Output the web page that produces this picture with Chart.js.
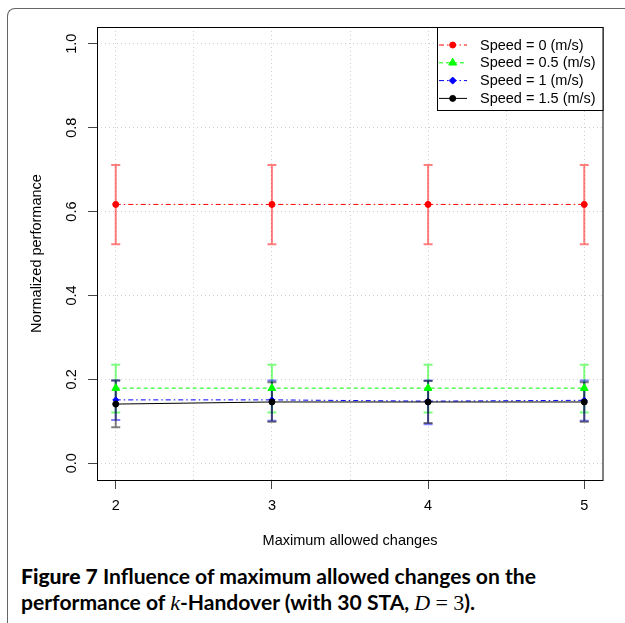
<!DOCTYPE html>
<html><head><meta charset="utf-8">
<script src="https://cdn.jsdelivr.net/npm/chart.js@4.4.0/dist/chart.umd.min.js"></script>
<style>
html,body{margin:0;padding:0;width:625px;height:623px;overflow:hidden;background:#fff;}
#frame{position:absolute;left:7px;top:8px;width:700px;height:700px;border-left:1px solid #666;border-top:1px solid #666;border-top-left-radius:8px;box-sizing:border-box;}
#wrap{position:absolute;left:0;top:0;width:625px;height:560px;}
#cap{position:absolute;left:21px;top:563px;font-family:Lato,"Open Sans",sans-serif;font-size:21.1px;line-height:26px;color:#000;font-weight:700;white-space:nowrap;}
#cap .f{font-weight:900;}
#cap .m{font-family:"Liberation Serif",serif;font-weight:400;font-size:22px;}
</style></head>
<body>
<div id="frame"></div>
<div id="wrap"><canvas id="c"></canvas></div>
<div id="cap"><span class="f">Figure 7</span> Influence of maximum allowed changes on the<br>performance of <i class="m">k</i>-Handover (with 30 STA, <i class="m">D</i> <span class="m">= 3</span>).</div>
<script>
// ---- data ----
const xValues = [2, 3, 4, 5];
const xGridValues = [2, 2.5, 3, 3.5, 4, 4.5, 5];
const xTickLabels = ['2', '3', '4', '5'];
const yTickValues = [0, 0.2, 0.4, 0.6, 0.8, 1.0];
const yTickLabels = ['0.0', '0.2', '0.4', '0.6', '0.8', '1.0'];
const seriesLabels = ['Speed = 0 (m/s)', 'Speed = 0.5 (m/s)', 'Speed = 1 (m/s)', 'Speed = 1.5 (m/s)'];

const speed0 = [0.617, 0.617, 0.617, 0.617];
const speed0Lo = [0.522, 0.522, 0.522, 0.522];
const speed0Hi = [0.711, 0.711, 0.711, 0.711];

const speed05 = [0.179, 0.179, 0.179, 0.179];
const speed05Lo = [0.121, 0.121, 0.121, 0.121];
const speed05Hi = [0.235, 0.235, 0.235, 0.235];

const speed1 = [0.151, 0.151, 0.148, 0.150];
const speed1Lo = [0.103, 0.101, 0.093, 0.101];
const speed1Hi = [0.197, 0.197, 0.197, 0.197];

const speed15 = [0.141, 0.146, 0.146, 0.146];
const speed15Lo = [0.086, 0.099, 0.096, 0.099];
const speed15Hi = [0.197, 0.193, 0.196, 0.193];

// ---- styles ----
const FONT = {family: '"Liberation Sans", Arial, sans-serif', size: 14.5};
const styles = [
  {color: '#ff0000', err: 'rgba(255,0,0,0.5)', dash: [5, 3, 1.5, 3], point: 'circle', r: 3},
  {color: '#00ff00', err: 'rgba(0,255,0,0.5)', dash: [4, 3], point: 'triangle', r: 4.5},
  {color: '#0000ff', err: 'rgba(0,0,255,0.5)', dash: [5, 3, 1.5, 3], point: 'rectRot', r: 3},
  {color: '#000000', err: 'rgba(0,0,0,0.5)', dash: [], point: 'circle', r: 3}
];
const seriesVals = [speed0, speed05, speed1, speed15];
const seriesLo = [speed0Lo, speed05Lo, speed1Lo, speed15Lo];
const seriesHi = [speed0Hi, speed05Hi, speed1Hi, speed15Hi];

const datasets = seriesVals.map((vals, k) => ({
  label: seriesLabels[k],
  data: xValues.map((x, i) => ({x: x, y: vals[i]})),
  lo: seriesLo[k], hi: seriesHi[k],
  borderColor: styles[k].color,
  backgroundColor: styles[k].color,
  borderWidth: 1,
  borderDash: styles[k].dash,
  pointStyle: styles[k].point,
  pointRadius: styles[k].r,
  pointBorderWidth: 1,
  pointBackgroundColor: styles[k].color,
  pointBorderColor: styles[k].color,
  errColor: styles[k].err,
  tension: 0,
  fill: false,
  order: 4 - k
}));

function drawMarker(ctx, style, x, y, r, color) {
  ctx.save();
  ctx.fillStyle = color; ctx.strokeStyle = color; ctx.lineWidth = 1; ctx.setLineDash([]);
  ctx.beginPath();
  if (style === 'circle') {
    ctx.arc(x, y, r, 0, Math.PI * 2);
  } else if (style === 'triangle') {
    ctx.moveTo(x, y - r);
    ctx.lineTo(x + r * Math.sin(Math.PI * 2 / 3), y - r * Math.cos(Math.PI * 2 / 3));
    ctx.lineTo(x - r * Math.sin(Math.PI * 2 / 3), y - r * Math.cos(Math.PI * 2 / 3));
  } else {
    ctx.moveTo(x, y - r - 0.5); ctx.lineTo(x + r + 0.5, y); ctx.lineTo(x, y + r + 0.5); ctx.lineTo(x - r - 0.5, y);
  }
  ctx.closePath(); ctx.fill(); ctx.stroke();
  ctx.restore();
}

const extras = {
  id: 'extras',
  beforeDatasetsDraw(chart) {
    const {ctx, scales: {x, y}} = chart;
    chart.data.datasets.forEach(ds => {
      ctx.save();
      ctx.strokeStyle = ds.errColor; ctx.lineWidth = 2; ctx.setLineDash([]);
      ctx.beginPath();
      ds.data.forEach((p, i) => {
        const px = x.getPixelForValue(p.x);
        const y1 = y.getPixelForValue(ds.lo[i]);
        const y2 = y.getPixelForValue(ds.hi[i]);
        ctx.moveTo(px, y1); ctx.lineTo(px, y2);
        ctx.moveTo(px - 4.5, y1); ctx.lineTo(px + 4.5, y1);
        ctx.moveTo(px - 4.5, y2); ctx.lineTo(px + 4.5, y2);
      });
      ctx.stroke();
      ctx.restore();
    });
  },
  afterDraw(chart) {
    const {ctx, chartArea: a} = chart;
    ctx.save();
    ctx.strokeStyle = '#000'; ctx.lineWidth = 1;
    ctx.strokeRect(Math.round(a.left) + 0.5, Math.round(a.top) + 0.5, Math.round(a.right - a.left) - 0.5, Math.round(a.bottom - a.top));
    // legend
    const lx = 437.5, ly = Math.round(a.top) + 0.5, lw = Math.round(a.right) - 437.5, lh = 83;
    ctx.fillStyle = '#fff';
    ctx.fillRect(lx, ly, lw, lh);
    ctx.strokeRect(lx, ly, lw, lh);
    ctx.font = FONT.size + 'px ' + FONT.family;
    ctx.textBaseline = 'middle'; ctx.textAlign = 'left';
    chart.data.datasets.forEach((ds, k) => {
      const yy = 45 + k * 17.8;
      ctx.save();
      ctx.strokeStyle = ds.borderColor; ctx.lineWidth = 1; ctx.setLineDash(ds.borderDash);
      ctx.beginPath(); ctx.moveTo(439, yy); ctx.lineTo(467, yy); ctx.stroke();
      ctx.restore();
      drawMarker(ctx, ds.pointStyle, 452.7, yy, ds.pointRadius, ds.borderColor);
      ctx.fillStyle = '#000';
      ctx.fillText(ds.label, 480, yy + 0.5);
    });
    ctx.restore();
  }
};

new Chart(document.getElementById('c'), {
  type: 'line',
  data: {datasets: datasets},
  plugins: [extras],
  options: {
    responsive: true, maintainAspectRatio: false, animation: false,
    layout: {padding: {top: 27, right: 22, left: 0, bottom: 0}},
    plugins: {legend: {display: false}, tooltip: {enabled: false}},
    scales: {
      x: {
        type: 'linear', min: 1.88, max: 5.12,
        afterBuildTicks: s => { s.ticks = xGridValues.map(v => ({value: v})); },
        afterFit: s => { s.height = 80; },
        ticks: {
          autoSkip: false, maxRotation: 0, minRotation: 0, color: '#000', font: FONT, padding: 8,
          callback: v => { const i = xValues.indexOf(v); return i >= 0 ? xTickLabels[i] : ''; }
        },
        grid: {
          color: '#d0d0d0', lineWidth: 1, tickLength: 9, tickWidth: 1,
          tickColor: c => (c.tick && xValues.indexOf(c.tick.value) >= 0) ? '#444' : 'rgba(0,0,0,0)'
        },
        border: {display: false, dash: [1, 3]},
        title: {display: true, text: 'Maximum allowed changes', color: '#000', font: FONT, padding: {top: 0, bottom: 10}}
      },
      y: {
        type: 'linear', min: -0.04, max: 1.04,
        afterBuildTicks: s => { s.ticks = yTickValues.map(v => ({value: v})); },
        afterFit: s => { s.width = 97; },
        ticks: {
          autoSkip: false, minRotation: 90, maxRotation: 90, crossAlign: 'center', color: '#000', font: FONT, padding: 6,
          callback: (v, i) => yTickLabels[i]
        },
        grid: {color: '#d0d0d0', lineWidth: 1, tickLength: 9, tickWidth: 1, tickColor: '#444'},
        border: {display: false, dash: [1, 3]},
        title: {display: true, text: 'Normalized performance', color: '#000', font: FONT, padding: {top: 28, bottom: 0}}
      }
    }
  }
});
</script>
</body></html>
